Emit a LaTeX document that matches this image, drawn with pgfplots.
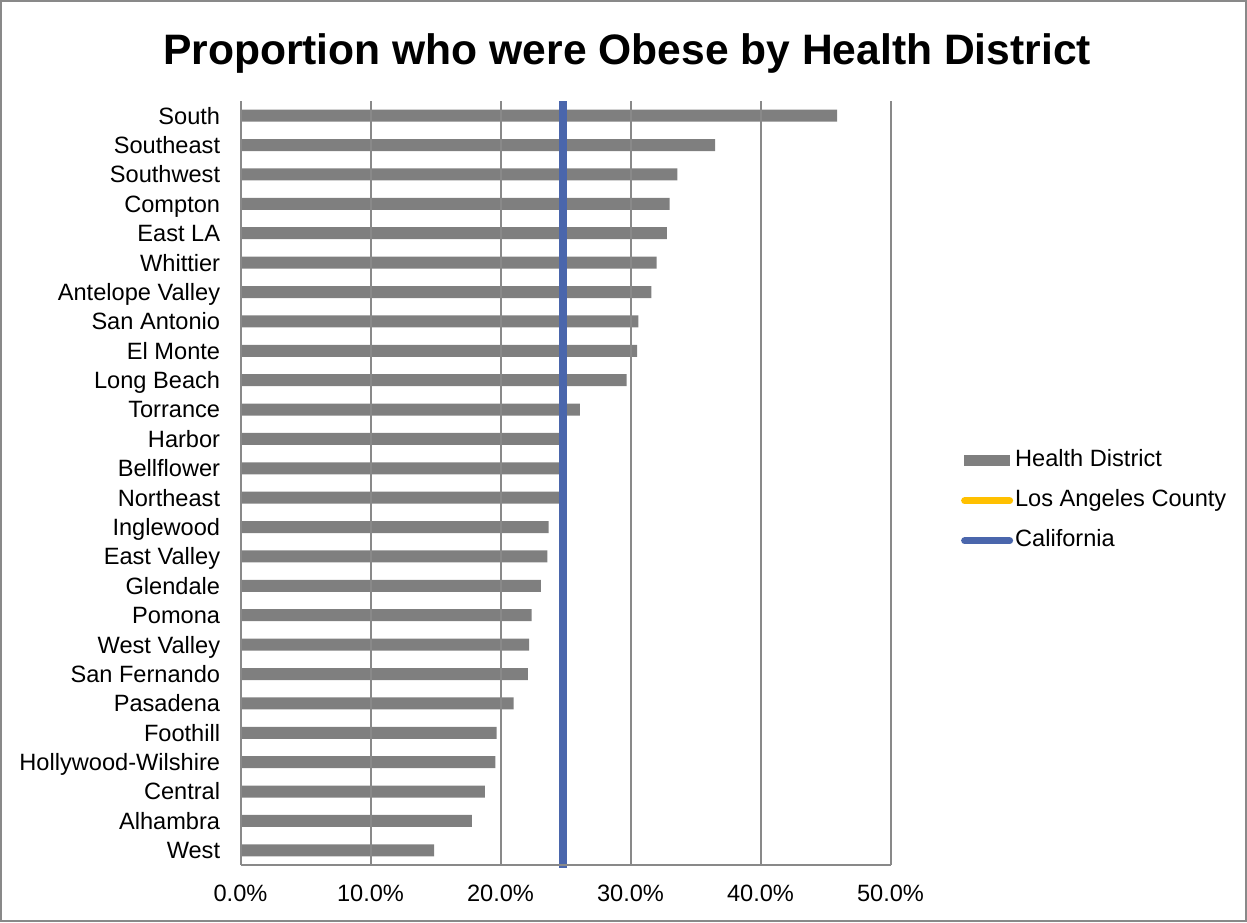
\documentclass[border=0pt]{standalone}
\usepackage{fontspec}
\setmainfont{Liberation Sans}
\usepackage{pgfplots}
\pgfplotsset{compat=1.18}

\definecolor{barGray}{RGB}{127,127,127}
\definecolor{gridGray}{RGB}{137,137,137}
\definecolor{frameGray}{RGB}{137,137,137}
\definecolor{caBlue}{RGB}{74,102,172}
\definecolor{laYellow}{RGB}{255,192,0}

\newcommand{\labelfont}{\fontsize{11.8}{14}\selectfont}

\begin{document}
\begin{tikzpicture}
\useasboundingbox (0,0) rectangle (623.5pt,461pt);
\draw[frameGray, line width=1pt] (0.5pt,0.5pt) rectangle (623pt,460.5pt);

\node[anchor=base, font=\fontsize{21.3}{25}\selectfont\bfseries] at (313.5pt,428.5pt)
  {Proportion who were Obese by Health District};

\begin{axis}[
  at={(120.25pt,28.5pt)}, anchor=south west,
  scale only axis, width=325pt, height=382pt,
  xmin=0, xmax=50,
  ymin=-0.5, ymax=25.5, y dir=reverse,
  axis x line*=bottom, axis y line*=left,
  axis line style={gridGray, line width=1pt},
  major tick length=0pt,
  xtick={0,10,20,30,40,50},
  xticklabels={0.0\%,10.0\%,20.0\%,30.0\%,40.0\%,50.0\%},
  xticklabel style={font=\labelfont, inner sep=0pt, anchor=north, yshift=-10pt},
  ytick={0,...,25},
  yticklabels={South,Southeast,Southwest,Compton,East LA,Whittier,Antelope Valley,San Antonio,El Monte,Long Beach,Torrance,Harbor,Bellflower,Northeast,Inglewood,East Valley,Glendale,Pomona,West Valley,San Fernando,Pasadena,Foothill,Hollywood-Wilshire,Central,Alhambra,West},
  yticklabel style={font=\labelfont, inner sep=0pt, anchor=base east, xshift=-10pt, yshift=-4.2pt},
  xmajorgrids, major grid style={gridGray, line width=1pt},
  axis on top,
  legend style={at={(1.0988,0.4768)}, anchor=west, draw=none, fill=none,
    font=\labelfont, row sep=9pt,
    nodes={inner sep=0pt, text height=8.6pt, text depth=2.4pt},
    /tikz/every odd column/.append style={column sep=1pt}},
  legend cell align=left,
  clip=false,
]
% district bars, top to bottom
\addplot[xbar, bar width=6pt, fill=barGray, draw=none,
  legend image code/.code={\fill[barGray] (0pt,-2.75pt) rectangle (23pt,2.75pt);}]
  coordinates {
  (45.9,0) (36.5,1) (33.6,2) (33.0,3) (32.8,4) (32.0,5) (31.6,6) (30.6,7)
  (30.5,8) (29.7,9) (26.1,10) (24.5,11) (24.5,12) (24.5,13) (23.7,14)
  (23.6,15) (23.1,16) (22.4,17) (22.2,18) (22.1,19) (21.0,20) (19.7,21)
  (19.6,22) (18.8,23) (17.8,24) (14.9,25)};
\addlegendentry{Health District}

% county and state reference lines
\addplot[laYellow, line width=3.5pt,
  legend image code/.code={\draw[line cap=round, line width=3.5pt] (0.5pt,0pt) -- (23pt,0pt);}]
  coordinates {(24.76,-0.5) (24.76,25.6)};
\addlegendentry{Los Angeles County}

\addplot[caBlue, line width=3.6pt,
  legend image code/.code={\draw[line cap=round, line width=3.5pt] (0.5pt,0pt) -- (23pt,0pt);}]
  coordinates {(24.8,-0.5) (24.8,25.6)};
\addlegendentry{California}
\end{axis}
\end{tikzpicture}
\end{document}
